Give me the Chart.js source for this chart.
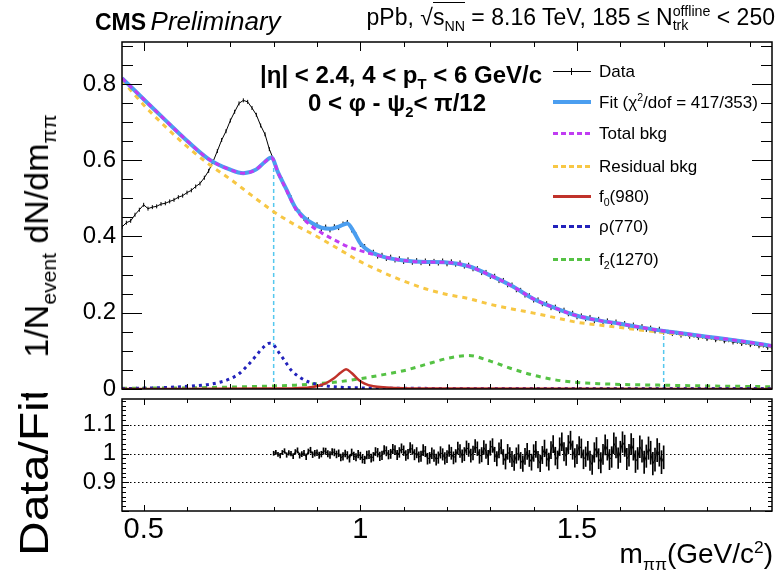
<!DOCTYPE html>
<html>
<head>
<meta charset="utf-8">
<script src="https://cdn.jsdelivr.net/npm/chart.js@4.4.0/dist/chart.umd.min.js"></script>
<style>
  html, body { margin: 0; padding: 0; background: #fff; }
  #wrap { position: relative; width: 778px; height: 577px; overflow: hidden;
          font-family: "Liberation Sans", Arial, Helvetica, sans-serif; color: #000; }
  canvas { position: absolute; left: 0; top: 0; }
  .t { position: absolute; white-space: nowrap; line-height: 1; }
  .c { transform: translate(-50%, -50%); }
  sub, sup { font-size: 62%; line-height: 0; }
  .ss { display: inline-block; vertical-align: middle; line-height: 0.95; font-size: 62%; text-align: left; }
  .ss span { display: block; }
  .leg { position: absolute; left: 599px; font-size: 17px; white-space: nowrap; line-height: 1; transform: translateY(-50%); }
  .ls { position: absolute; left: 553px; width: 38px; }
</style>
</head>
<body>
<div id="wrap">
  <canvas id="topCanvas" width="778" height="577"></canvas>
  <canvas id="ratioCanvas" width="778" height="577"></canvas>

  <div class="t" style="left:95px; top:8px;"><b style="font-size:23px;">CMS</b> <i style="font-size:26px;">Preliminary</i></div>
  <div class="t" style="right:3px; top:5px; font-size:23px;">pPb, √<span style="border-top:1px solid #000; padding-top:1px;">s<sub>NN</sub></span> = 8.16 TeV, 185 ≤ N<span class="ss"><span>offline</span><span>trk</span></span> &lt; 250</div>

  <div class="t c" style="left:401px; top:75px; font-size:24px; font-weight:bold;">|η| &lt; 2.4, 4 &lt; p<sub>T</sub> &lt; 6 GeV/c</div>
  <div class="t c" style="left:397px; top:103px; font-size:24px; font-weight:bold;">0 &lt; φ - ψ<sub>2</sub>&lt; π/12</div>

  <div class="ls" style="top:71px; height:1px; background:#000;"></div>
  <div class="ls" style="top:68px; left:571px; width:1px; height:7px; background:#000;"></div>
  <div class="leg" style="top:71px;">Data</div>
  <div class="ls" style="top:100px; height:4px; background:#4b9ef0;"></div>
  <div class="leg" style="top:102px;">Fit (χ<sup>2</sup>/dof = 417/353)</div>
  <div class="ls" style="top:132px; height:3px; background:repeating-linear-gradient(90deg,#c03cf2 0 5px,transparent 5px 8px);"></div>
  <div class="leg" style="top:133px;">Total bkg</div>
  <div class="ls" style="top:165px; height:3px; background:repeating-linear-gradient(90deg,#f7c744 0 5px,transparent 5px 8px);"></div>
  <div class="leg" style="top:166px;">Residual bkg</div>
  <div class="ls" style="top:195px; height:3px; background:#c0322a;"></div>
  <div class="leg" style="top:196px;">f<sub>0</sub>(980)</div>
  <div class="ls" style="top:225px; height:3px; background:repeating-linear-gradient(90deg,#2222bb 0 5px,transparent 5px 8px);"></div>
  <div class="leg" style="top:226px;">ρ(770)</div>
  <div class="ls" style="top:258px; height:3px; background:repeating-linear-gradient(90deg,#55c244 0 5px,transparent 5px 8px);"></div>
  <div class="leg" style="top:259px;">f<sub>2</sub>(1270)</div>

  <div class="t c" style="left:36px; top:236px; font-size:34px; transform:translate(-50%,-50%) rotate(-90deg);">1/N<sub>event</sub> dN/dm<sub>ππ</sub></div>
  <div style="position:absolute; left:0; top:393px; width:80px; height:184px; overflow:hidden;">
    <div class="t" style="left:38px; top:163px; font-size:48px; transform-origin:0 0; transform:rotate(-90deg) translate(0,-50%) scaleY(0.85);">Data/Fit</div>
  </div>
  <div class="t" style="right:5px; top:540px; font-size:28px;">m<sub>ππ</sub>(GeV/c<sup>2</sup>)</div>
</div>

<script>
  // upper panel: distribution (1/N dN/dm)
  const dataMass = [0.45,0.46,0.47,0.48,0.49,0.50,0.51,0.52,0.53,0.54,0.55,0.56,0.57,0.58,0.59,0.60,0.61,0.62,0.63,0.64,
    0.65,0.66,0.67,0.68,0.69,0.70,0.71,0.72,0.73,0.74,0.75,0.76,0.77,0.78,0.79,0.80,0.81,0.82,0.83,0.84,
    0.85,0.86,0.87,0.88,0.89,0.90,0.91,0.92,0.93,0.94,0.95,0.96,0.97,0.98,0.99,1.00,1.01,1.02,1.03,1.04,
    1.05,1.06,1.07,1.08,1.09,1.10,1.11,1.12,1.13,1.14,1.15,1.16,1.17,1.18,1.19,1.20,1.21,1.22,1.23,1.24,
    1.25,1.26,1.27,1.28,1.29,1.30,1.31,1.32,1.33,1.34,1.35,1.36,1.37,1.38,1.39,1.40,1.41,1.42,1.43,1.44,
    1.45,1.46,1.47,1.48,1.49,1.50,1.51,1.52,1.53,1.54,1.55,1.56,1.57,1.58,1.59,1.60,1.61,1.62,1.63,1.64,
    1.65,1.66,1.67,1.68,1.69,1.70,1.71,1.72,1.73,1.74,1.75,1.76,1.77,1.78,1.79,1.80,1.81,1.82,1.83,1.84,
    1.85,1.86,1.87,1.88,1.89,1.90,1.91,1.92,1.93,1.94,1.95];
  const dataValues = [0.425,0.436,0.441,0.457,0.470,0.483,0.473,0.477,0.479,0.485,0.487,0.492,0.496,0.503,0.507,0.515,0.521,0.531,0.539,0.554,
    0.572,0.596,0.624,0.653,0.676,0.704,0.727,0.749,0.757,0.753,0.737,0.719,0.691,0.668,0.629,0.601,0.566,0.549,0.518,0.503,
    0.472,0.465,0.446,0.445,0.430,0.432,0.419,0.426,0.416,0.427,0.422,0.434,0.438,0.416,0.405,0.378,0.375,0.358,0.360,0.347,
    0.352,0.341,0.347,0.337,0.343,0.333,0.340,0.331,0.338,0.330,0.337,0.328,0.336,0.329,0.337,0.327,0.335,0.326,0.332,0.321,
    0.326,0.314,0.317,0.304,0.307,0.294,0.297,0.283,0.286,0.272,0.274,0.259,0.260,0.245,0.246,0.232,0.235,0.222,0.225,0.212,
    0.216,0.204,0.208,0.196,0.200,0.188,0.193,0.183,0.189,0.178,0.184,0.174,0.180,0.171,0.177,0.167,0.173,0.163,0.169,0.159,
    0.165,0.155,0.161,0.151,0.158,0.148,0.150,0.144,0.147,0.140,0.144,0.137,0.140,0.134,0.137,0.131,0.134,0.128,0.131,0.125,
    0.128,0.122,0.124,0.118,0.121,0.115,0.118,0.112,0.114,0.108,0.110];

  const fitMass = [0.45,0.50,0.55,0.60,0.65,0.70,0.73,0.76,0.78,0.795,0.81,0.83,0.85,0.87,0.89,0.91,0.93,0.95,0.97,0.985,
    1.00,1.02,1.05,1.10,1.15,1.20,1.25,1.30,1.35,1.40,1.45,1.50,1.55,1.60,1.65,1.70,1.75,1.80,1.85,1.90,1.95];
  const fitValues = [0.815,0.760,0.705,0.651,0.603,0.575,0.566,0.576,0.596,0.607,0.568,0.522,0.476,0.450,0.434,0.423,0.420,0.426,0.434,0.412,
    0.382,0.362,0.348,0.337,0.333,0.332,0.322,0.298,0.270,0.236,0.212,0.192,0.180,0.171,0.161,0.152,0.145,0.137,0.130,0.122,0.113];

  const totalMass = [0.45,0.50,0.55,0.60,0.65,0.70,0.73,0.76,0.78,0.795,0.81,0.83,0.85,0.87,0.89,0.91,0.93,0.95,0.97,1.00,
    1.03,1.06,1.10,1.15,1.20,1.25,1.30,1.35,1.40,1.45,1.50,1.55,1.60,1.65,1.70,1.75,1.80,1.85,1.90,1.95];
  const totalValues = [0.815,0.760,0.705,0.651,0.603,0.575,0.566,0.576,0.596,0.607,0.568,0.520,0.474,0.445,0.425,0.410,0.397,0.385,0.374,0.363,
    0.353,0.345,0.337,0.333,0.332,0.322,0.298,0.270,0.236,0.212,0.192,0.180,0.171,0.161,0.152,0.145,0.137,0.130,0.122,0.113];

  const residMass = [0.45,0.50,0.55,0.60,0.65,0.70,0.75,0.80,0.85,0.90,0.95,1.00,1.05,1.10,1.15,1.20,1.25,1.30,1.35,1.40,
    1.45,1.50,1.55,1.60,1.65,1.70,1.75,1.80,1.85,1.90,1.95];
  const residValues = [0.810,0.745,0.688,0.636,0.590,0.550,0.507,0.465,0.430,0.400,0.367,0.334,0.307,0.283,0.263,0.248,0.237,0.222,0.210,0.199,
    0.187,0.175,0.168,0.161,0.154,0.148,0.142,0.135,0.128,0.120,0.110];

  const rhoMass = [0.45,0.55,0.60,0.65,0.68,0.70,0.72,0.74,0.76,0.775,0.79,0.80,0.81,0.825,0.84,0.86,0.88,0.91,0.95,1.00,1.10,1.30,1.95];
  const rhoValues = [0.001,0.004,0.007,0.012,0.019,0.027,0.040,0.062,0.088,0.108,0.120,0.116,0.099,0.075,0.050,0.031,0.019,0.010,0.005,0.003,0.002,0.001,0.001];

  const f0Mass = [0.45,0.80,0.85,0.89,0.92,0.94,0.955,0.967,0.98,0.995,1.01,1.03,1.06,1.10,1.20,1.95];
  const f0Values = [0.000,0.001,0.002,0.005,0.015,0.029,0.043,0.052,0.042,0.025,0.014,0.007,0.004,0.002,0.001,0.000];

  const f2Mass = [0.45,0.60,0.70,0.80,0.85,0.90,0.95,1.00,1.05,1.10,1.15,1.20,1.25,1.30,1.35,1.40,1.45,1.50,1.55,1.60,1.70,1.80,1.95];
  const f2Values = [0.002,0.003,0.005,0.008,0.010,0.014,0.019,0.027,0.037,0.048,0.064,0.080,0.088,0.073,0.053,0.036,0.024,0.017,0.014,0.012,0.010,0.008,0.006];

  // fit range markers
  const fitRangeMass = [0.80, 1.70];
  const fitRangeTop = [0.605, 0.152];

  // lower panel: Data/Fit
  const ratioMass = [0.800,0.805,0.810,0.815,0.820,0.825,0.830,0.835,0.840,0.845,0.850,0.855,0.860,0.865,0.870,0.875,0.880,0.885,0.890,0.895,
    0.900,0.905,0.910,0.915,0.920,0.925,0.930,0.935,0.940,0.945,0.950,0.955,0.960,0.965,0.970,0.975,0.980,0.985,0.990,0.995,
    1.000,1.005,1.010,1.015,1.020,1.025,1.030,1.035,1.040,1.045,1.050,1.055,1.060,1.065,1.070,1.075,1.080,1.085,1.090,1.095,
    1.100,1.105,1.110,1.115,1.120,1.125,1.130,1.135,1.140,1.145,1.150,1.155,1.160,1.165,1.170,1.175,1.180,1.185,1.190,1.195,
    1.200,1.205,1.210,1.215,1.220,1.225,1.230,1.235,1.240,1.245,1.250,1.255,1.260,1.265,1.270,1.275,1.280,1.285,1.290,1.295,
    1.300,1.305,1.310,1.315,1.320,1.325,1.330,1.335,1.340,1.345,1.350,1.355,1.360,1.365,1.370,1.375,1.380,1.385,1.390,1.395,
    1.400,1.405,1.410,1.415,1.420,1.425,1.430,1.435,1.440,1.445,1.450,1.455,1.460,1.465,1.470,1.475,1.480,1.485,1.490,1.495,
    1.500,1.505,1.510,1.515,1.520,1.525,1.530,1.535,1.540,1.545,1.550,1.555,1.560,1.565,1.570,1.575,1.580,1.585,1.590,1.595,
    1.600,1.605,1.610,1.615,1.620,1.625,1.630,1.635,1.640,1.645,1.650,1.655,1.660,1.665,1.670,1.675,1.680,1.685,1.690,1.695,
    1.700];
  const ratioValues = [1.001,1.004,0.997,0.993,1.004,1.009,0.995,1.002,1.000,0.991,1.006,1.011,0.993,0.998,1.002,0.989,1.007,1.012,0.996,1.001,
    1.003,0.994,0.998,1.009,1.008,0.999,0.995,1.006,1.004,0.997,1.001,0.986,0.990,1.000,0.994,0.983,1.004,0.992,0.987,0.998,
    0.992,0.981,0.978,0.995,0.996,0.984,0.989,1.007,1.003,0.990,0.994,1.013,1.008,0.996,0.999,1.016,1.012,0.995,1.004,1.018,
    1.010,0.993,0.998,1.020,1.014,0.996,1.003,0.988,0.991,1.012,1.007,0.982,0.985,1.001,0.993,0.979,0.986,1.004,0.997,0.983,
    0.989,1.010,1.001,0.985,0.992,1.019,1.009,0.991,0.998,1.022,1.013,0.993,1.002,1.026,1.017,0.990,0.996,1.021,1.008,0.986,
    1.019,1.028,0.997,0.982,1.011,1.024,0.988,0.972,1.006,0.995,0.981,0.968,0.993,1.004,0.976,0.965,0.990,1.008,0.983,0.970,
    1.002,1.015,0.979,0.966,0.995,1.018,0.986,0.972,1.012,1.033,0.991,0.978,1.024,1.041,1.006,0.990,1.031,1.046,1.012,0.985,
    0.998,1.027,1.018,0.980,0.989,1.010,0.975,0.961,1.004,1.022,0.982,0.968,0.997,1.030,1.013,0.979,0.988,1.036,1.021,0.984,
    1.006,1.040,1.027,0.981,0.994,1.033,1.015,0.972,0.983,1.024,1.009,0.970,0.991,1.019,1.003,0.965,0.979,1.012,0.996,0.970,
    0.987];
  const ratioErrors = [0.007,0.007,0.007,0.008,0.007,0.008,0.008,0.008,0.008,0.009,0.008,0.009,0.009,0.009,0.009,0.010,0.009,0.010,0.010,0.010,
    0.010,0.011,0.010,0.011,0.011,0.011,0.012,0.011,0.012,0.012,0.012,0.012,0.013,0.012,0.013,0.013,0.012,0.013,0.013,0.013,
    0.013,0.014,0.013,0.014,0.014,0.014,0.015,0.014,0.015,0.015,0.015,0.015,0.016,0.015,0.016,0.016,0.016,0.016,0.017,0.016,
    0.017,0.017,0.017,0.018,0.017,0.018,0.018,0.018,0.018,0.019,0.018,0.019,0.019,0.019,0.020,0.019,0.020,0.020,0.020,0.020,
    0.021,0.020,0.021,0.021,0.022,0.021,0.022,0.022,0.023,0.022,0.023,0.023,0.024,0.023,0.024,0.024,0.025,0.024,0.025,0.025,
    0.025,0.024,0.025,0.025,0.026,0.025,0.026,0.026,0.026,0.026,0.027,0.027,0.027,0.027,0.028,0.027,0.028,0.028,0.028,0.028,
    0.029,0.028,0.029,0.029,0.030,0.029,0.030,0.030,0.030,0.030,0.031,0.031,0.031,0.031,0.032,0.031,0.032,0.032,0.032,0.032,
    0.033,0.032,0.033,0.033,0.034,0.033,0.034,0.034,0.034,0.034,0.035,0.035,0.035,0.035,0.036,0.035,0.036,0.036,0.036,0.036,
    0.037,0.036,0.037,0.037,0.038,0.037,0.038,0.038,0.038,0.038,0.039,0.039,0.039,0.039,0.040,0.039,0.040,0.040,0.040,0.040,
    0.040];

  // tick labels
  const upperYTicks = [0, 0.2, 0.4, 0.6, 0.8];
  const ratioYTicks = [0.9, 1, 1.1];
  const xTicks = [0.5, 1, 1.5];

  Chart.defaults.font.family = '"Liberation Sans", Arial, Helvetica, sans-serif';
  Chart.defaults.color = '#000';

  const pts = (xs, ys) => xs.map((x, i) => ({ x: x, y: ys[i] }));
  const isMult = (v, step) => Math.abs(v / step - Math.round(v / step)) < 1e-6;

  // ROOT style frame with ticks on all four sides
  const rootFrame = {
    id: 'rootFrame',
    beforeDatasetsDraw(chart, args, o) {
      if (!o.gridY) return;
      const { ctx, chartArea: a, scales: { y } } = chart;
      ctx.save();
      ctx.setLineDash([1.5, 2.5]);
      ctx.lineWidth = 1;
      ctx.strokeStyle = '#000';
      o.gridY.forEach(v => {
        const py = Math.round(y.getPixelForValue(v)) + 0.5;
        ctx.beginPath();
        ctx.moveTo(a.left, py);
        ctx.lineTo(a.right, py);
        ctx.stroke();
      });
      ctx.restore();
    },
    afterDatasetsDraw(chart, args, o) {
      const { ctx, chartArea: a, scales: { x, y } } = chart;
      ctx.save();
      ctx.strokeStyle = '#000';
      ctx.lineWidth = 1;
      ctx.beginPath();
      for (let i = 0; ; i++) {
        const v = o.xFrom + i * o.xStep;
        if (v > x.max + 1e-9) break;
        const px = Math.round(x.getPixelForValue(v)) + 0.5;
        const len = isMult(v, o.xMajorStep) ? o.xMajor : o.xMinor;
        ctx.moveTo(px, a.bottom); ctx.lineTo(px, a.bottom - len);
        ctx.moveTo(px, a.top); ctx.lineTo(px, a.top + len);
      }
      for (let i = 0; ; i++) {
        const v = o.yFrom + i * o.yStep;
        if (v > y.max + 1e-9) break;
        const py = Math.round(y.getPixelForValue(v)) + 0.5;
        const len = isMult(v - o.yFrom, o.yMajorStep) ? o.yMajor : o.yMinor;
        ctx.moveTo(a.left, py); ctx.lineTo(a.left + len, py);
        ctx.moveTo(a.right, py); ctx.lineTo(a.right - len, py);
      }
      ctx.stroke();
      ctx.lineWidth = 1.5;
      ctx.strokeRect(a.left, a.top, a.right - a.left, a.bottom - a.top);
      ctx.restore();
    }
  };

  const curve = (label, xs, ys, color, width, dash, order) => ({
    label: label,
    data: pts(xs, ys),
    borderColor: color,
    borderWidth: width,
    borderDash: dash,
    cubicInterpolationMode: 'monotone',
    pointRadius: 0,
    fill: false,
    order: order
  });

  // Upper panel
  new Chart(document.getElementById('topCanvas'), {
    type: 'line',
    data: {
      datasets: [
        curve('Total bkg', totalMass, totalValues, '#c03cf2', 3, [5, 4], 1),
        curve('Fit', fitMass, fitValues, '#4b9ef0', 4, [], 2),
        curve('Residual bkg', residMass, residValues, '#f7c744', 3, [5, 5], 3),
        curve('f0(980)', f0Mass, f0Values, '#c0322a', 2.5, [], 4),
        curve('rho(770)', rhoMass, rhoValues, '#2222bb', 3, [3, 4], 5),
        curve('f2(1270)', f2Mass, f2Values, '#55c244', 3, [5, 5], 6),
        {
          label: 'Data',
          data: pts(dataMass, dataValues),
          borderColor: '#000',
          backgroundColor: '#000',
          borderWidth: 1,
          pointStyle: 'line',
          pointRotation: 90,
          pointRadius: 2,
          pointBorderWidth: 1,
          tension: 0,
          order: 7
        },
        {
          label: 'range lo',
          data: [{ x: fitRangeMass[0], y: 0 }, { x: fitRangeMass[0], y: fitRangeTop[0] }],
          borderColor: '#55c8ee', borderWidth: 1.5, borderDash: [4, 3], pointRadius: 0, order: 8
        },
        {
          label: 'range hi',
          data: [{ x: fitRangeMass[1], y: 0 }, { x: fitRangeMass[1], y: fitRangeTop[1] }],
          borderColor: '#55c8ee', borderWidth: 1.5, borderDash: [4, 3], pointRadius: 0, order: 8
        }
      ]
    },
    options: {
      responsive: false,
      animation: false,
      events: [],
      layout: { padding: { top: 42, right: 6, bottom: 188, left: 0 } },
      plugins: {
        legend: { display: false },
        tooltip: { enabled: false },
        rootFrame: { xFrom: 0.5, xStep: 0.1, xMajorStep: 0.5, xMajor: 9, xMinor: 5,
                     yFrom: 0, yStep: 0.05, yMajorStep: 0.2, yMajor: 20, yMinor: 11 }
      },
      scales: {
        x: { type: 'linear', min: 0.45, max: 1.95, display: false },
        y: {
          type: 'linear', min: 0, max: 0.91,
          afterFit: s => { s.width = 122; },
          afterBuildTicks: s => { s.ticks = upperYTicks.map(v => ({ value: v })); },
          grid: { display: false, drawTicks: false },
          border: { display: false },
          ticks: { padding: 6, font: { size: 24 }, callback: v => String(v) }
        }
      }
    },
    plugins: [rootFrame]
  });

  // Ratio panel
  new Chart(document.getElementById('ratioCanvas'), {
    type: 'line',
    data: {
      datasets: [
        {
          label: 'Data/Fit',
          data: pts(ratioMass, ratioValues),
          borderColor: '#000',
          borderWidth: 1,
          pointRadius: 0,
          tension: 0,
          order: 1
        },
        {
          type: 'bar',
          label: 'errors',
          data: ratioMass.map((m, i) => ({ x: m, y: [ratioValues[i] - ratioErrors[i], ratioValues[i] + ratioErrors[i]] })),
          backgroundColor: '#000',
          barThickness: 1,
          order: 2
        }
      ]
    },
    options: {
      responsive: false,
      animation: false,
      events: [],
      layout: { padding: { top: 399, right: 6, bottom: 26, left: 0 } },
      plugins: {
        legend: { display: false },
        tooltip: { enabled: false },
        rootFrame: { gridY: ratioYTicks, xFrom: 0.5, xStep: 0.1, xMajorStep: 0.5, xMajor: 6, xMinor: 4,
                     yFrom: 0.8, yStep: 0.1 / 6, yMajorStep: 0.1, yMajor: 7, yMinor: 4 }
      },
      scales: {
        x: {
          type: 'linear', min: 0.45, max: 1.95, offset: false,
          afterFit: s => { s.height = 40; },
          afterBuildTicks: s => { s.ticks = xTicks.map(v => ({ value: v })); },
          grid: { display: false, drawTicks: false },
          border: { display: false },
          ticks: { padding: 2, autoSkip: false, maxRotation: 0, font: { size: 29 }, callback: v => String(v) }
        },
        y: {
          type: 'linear', min: 0.8, max: 1.19,
          afterFit: s => { s.width = 122; },
          afterBuildTicks: s => { s.ticks = ratioYTicks.map(v => ({ value: v })); },
          grid: { display: false, drawTicks: false },
          border: { display: false },
          ticks: { padding: 6, font: { size: 24 }, callback: v => String(v) }
        }
      }
    },
    plugins: [rootFrame]
  });
</script>
</body>
</html>
